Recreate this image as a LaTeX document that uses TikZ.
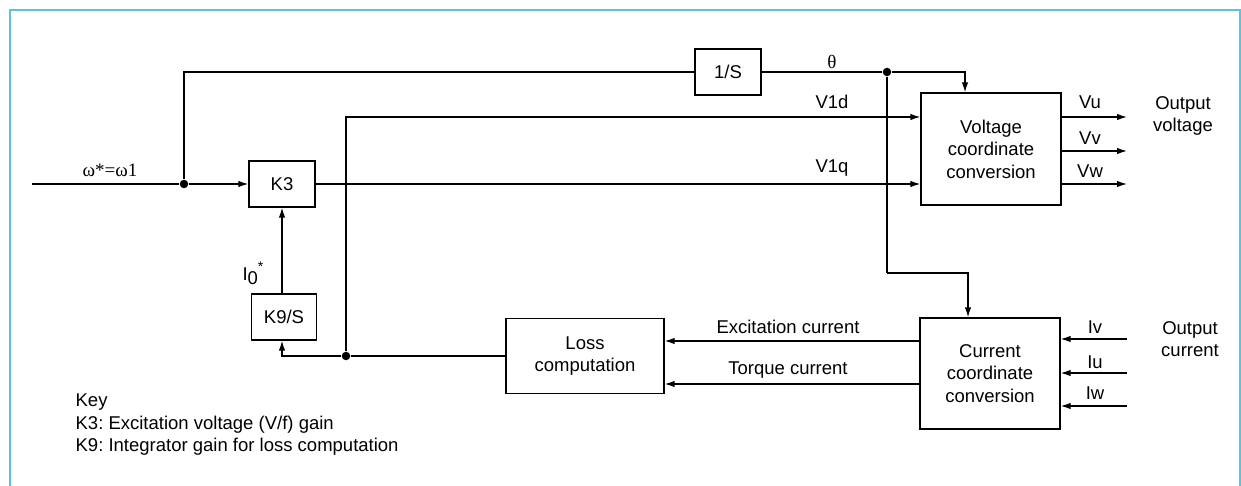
\documentclass[tikz,border=0pt]{standalone}
\usepackage{fontspec}
\setmainfont{Liberation Sans}
\newfontfamily\seriffont{Liberation Serif}
\usetikzlibrary{arrows.meta,calc}
\definecolor{framecol}{RGB}{90,196,224}
\frenchspacing
\begin{document}
\begin{tikzpicture}[x=1pt,y=-1pt,
  font=\fontsize{18.5}{22.5}\selectfont,
  line width=1.3pt,
  blk/.style={draw, line width=1.3pt, inner sep=0pt, align=center},
  lbl/.style={inner sep=0pt},
  arr/.style={-{Latex[length=10pt,width=6.5pt]}},
  dot/.style={circle, fill, inner sep=0pt, minimum size=8.5pt}]
\useasboundingbox (0,0) rectangle (1241,486);
\draw[framecol, line width=1.5pt] (10,486) -- (10,10) -- (1240,10) -- (1240,486);

% blocks
\node[dot] (j1) at (184,184) {};
\node[blk, minimum width=66pt, minimum height=46pt] (k3) at (282,184) {K3};
\node[blk, minimum width=66pt, minimum height=46pt] (inv) at (728,72) {1/S};
\node[dot] (j2) at (887,72) {};
\node[blk, minimum width=140pt, minimum height=112pt] (vcc) at (991,149) {Voltage\\coordinate\\conversion};
\node[blk, minimum width=65pt, minimum height=46pt] (k9) at (284,317) {K9/S};
\node[dot] (j3) at (346,356) {};
\node[blk, minimum width=158pt, minimum height=75pt] (loss) at (585,356) {Loss\\computation};
\node[blk, minimum width=140pt, minimum height=111pt] (ccc) at (990,373.5) {Current\\coordinate\\conversion};

% free ends
\coordinate (in) at (32,184);
\coordinate (vu) at (1127,117);
\coordinate (vv) at (1127,151);
\coordinate (vw) at (1127,184);
\coordinate (iv) at (1127,339);
\coordinate (iu) at (1127,373);
\coordinate (iw) at (1127,406);
\coordinate (bend) at (887,273);
\coordinate (vtop) at ($(vcc.north)+(-26,0)$);
\coordinate (ctop) at ($(ccc.north)+(-22,0)$);
\coordinate (vd) at ($(vcc.west)+(0,-32)$);
\coordinate (exc) at ($(ccc.west)+(0,-32.5)$);
\coordinate (tor) at ($(ccc.west)+(0,10.5)$);

% connectors
\draw (in) -- (j1);
\draw[arr] (j1) -- (k3.west);
\draw (j1) |- (inv.west);
\draw (inv.east) -- (j2);
\draw[arr] (j2) -| (vtop);
\draw (j2) -- (bend);
\draw[arr] (bend) -| (ctop);
\draw[arr] (j3) |- (vd);
\draw[arr] (k3.east) -- (k3.east -| vcc.west);
\draw[arr] (vcc.east |- vu) -- (vu);
\draw[arr] (vcc.east |- vv) -- (vv);
\draw[arr] (vcc.east |- vw) -- (vw);
\draw[arr] (iv) -- (iv -| ccc.east);
\draw[arr] (iu) -- (iu -| ccc.east);
\draw[arr] (iw) -- (iw -| ccc.east);
\draw[arr] (exc) -- (exc -| loss.east);
\draw[arr] (tor) -- (tor -| loss.east);
\draw (loss.west) -- (j3);
\draw[arr] (j3) -- (j3 -| k3) -- (k3 |- k9.south);
\draw[arr] (k3 |- k9.north) -- (k3.south);

% labels
\node[lbl, font=\fontsize{19}{22.5}\seriffont] (lw) at (110,170) {ω*=ω1};
\node[lbl, font=\fontsize{19}{22.5}\seriffont] (lth) at (832,62) {θ};
\node[lbl] (l1d) at (832,102) {V1d};
\node[lbl] (l1q) at (832,168) {V1q};
\node[lbl] (lvu) at (1090,102) {Vu};
\node[lbl] (lvv) at (1090,138) {Vv};
\node[lbl] (lvw) at (1090,171) {Vw};
\node[lbl, align=center] (lov) at (1183,116) {Output\\voltage};
\node[lbl] (liv) at (1095,327) {Iv};
\node[lbl] (liu) at (1095,362) {Iu};
\node[lbl] (liw) at (1095,393) {Iw};
\node[lbl, align=center] (loc) at (1190,339) {Output\\current};
\node[lbl] (lexc) at (788,327) {Excitation current};
\node[lbl] (ltor) at (788,370) {Torque current};
\node[lbl] (li0) at (253,273) {I\raisebox{-0.35ex}{0}\raisebox{1.0ex}{\fontsize{14}{14}\selectfont*}};
\node[lbl, anchor=base west] (key1) at (75,406) {Key};
\node[lbl, anchor=base west] (key2) at (75,429) {K3: Excitation voltage (V/f) gain};
\node[lbl, anchor=base west] (key3) at (75,451) {K9: Integrator gain for loss computation};
\end{tikzpicture}
\end{document}
